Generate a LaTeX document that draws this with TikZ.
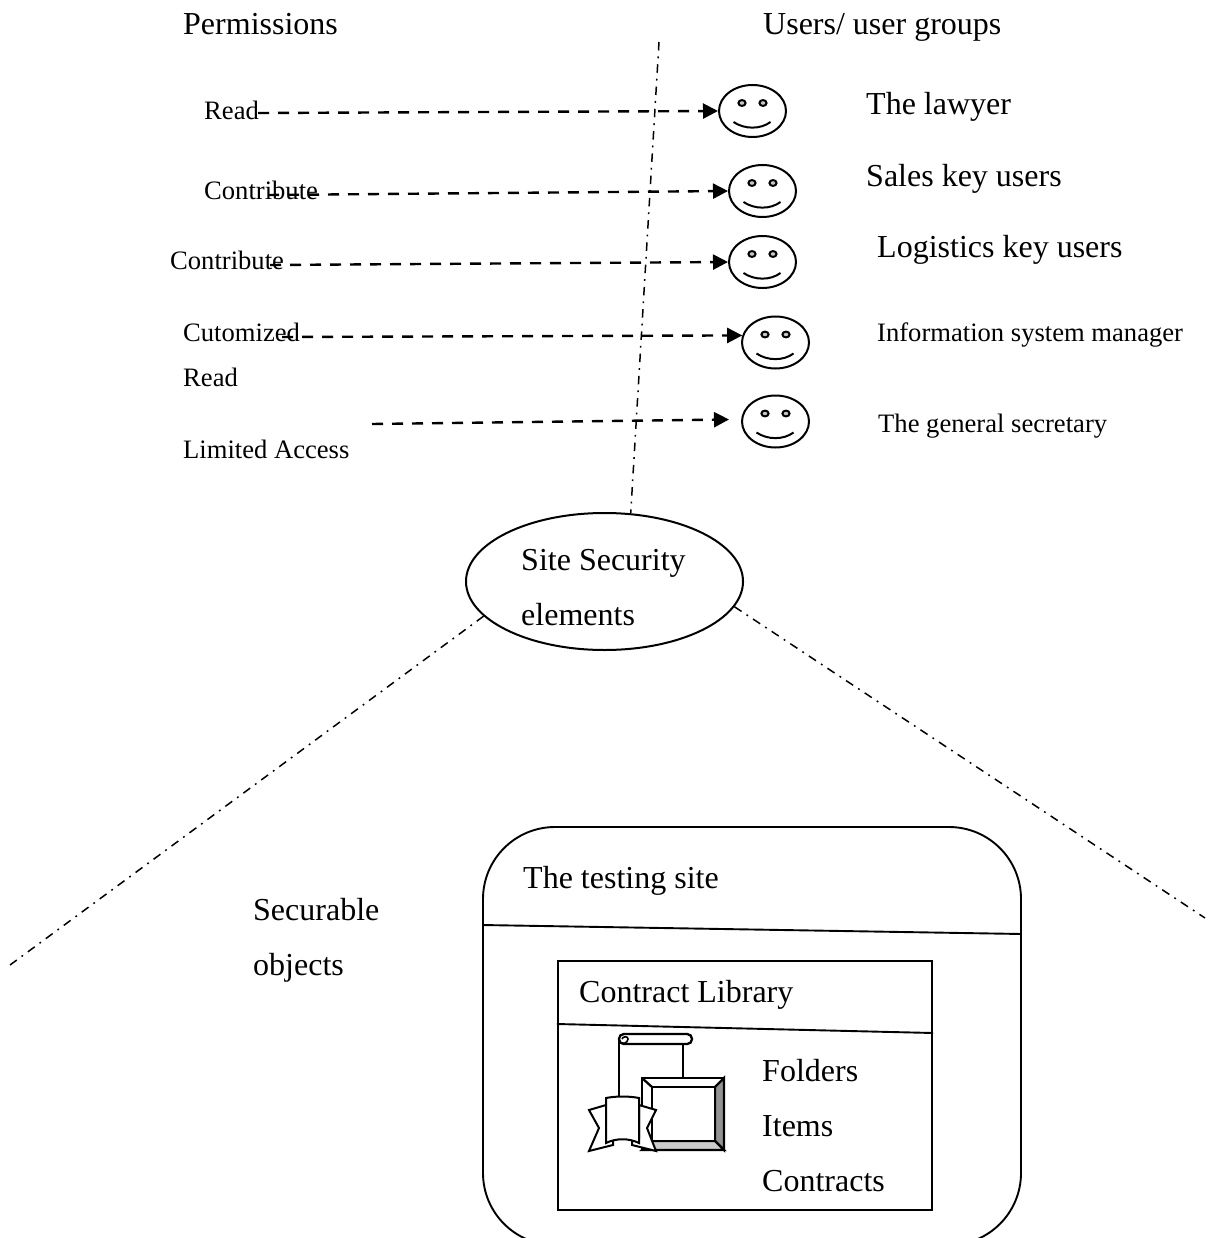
\documentclass[tikz,border=0pt]{standalone}
\usepackage{fontspec}
\setmainfont{Liberation Serif}
\usetikzlibrary{arrows.meta,shapes.geometric}
\tikzset{
  x=1pt,y=-1pt,
  bigt/.style={anchor=base west,inner sep=0pt,yshift=-0.8pt,font=\fontsize{32}{36}\selectfont},
  smallt/.style={anchor=base west,inner sep=0pt,yshift=-0.8pt,font=\fontsize{26.6}{30}\selectfont},
  ln/.style={line width=1.9pt,black},
  iconln/.style={line width=2.3pt,black,line join=miter},
  facebody/.style={draw,ellipse,line width=2pt,minimum width=67pt,minimum height=52pt,inner sep=0pt},
  perm/.style={line width=2.4pt,dash pattern=on 11pt off 9pt,-{Triangle[length=15pt,width=15pt]}},
  axisline/.style={line width=1.5pt,dash pattern=on 8.5pt off 6pt on 1.8pt off 6pt},
  pics/smile/.style={code={
    \draw[line width=2pt,fill=gray!45] (-10.5,-8) ellipse (3.6pt and 2.9pt);
    \draw[line width=2pt,fill=gray!45] (10.5,-8) ellipse (3.6pt and 2.9pt);
    \draw[line width=2pt] (-19,11) .. controls (-8,18.5) and (8,18.5) .. (18,11);
  }}
}
\begin{document}
\begin{tikzpicture}
\useasboundingbox (0,0) rectangle (1216,1238);
\begin{scope}
\clip (0,0) rectangle (1216,1238);

% headings
\node[bigt] (tperm) at (183,34) {Permissions};
\node[bigt] (tusers) at (763,34) {Users/ user groups};

% permission labels
\node[smallt] (pread) at (204,119) {Read};
\node[smallt] (pcona) at (204,199) {Contribute};
\node[smallt] (pconb) at (170,269) {Contribute};
\node[smallt] (pcut) at (183,341) {Cutomized};
\node[smallt] (pcutb) at (183,386) {Read};
\node[smallt] (plim) at (183,458) {Limited Access};

% user labels
\node[bigt] (ulaw) at (866,114) {The lawyer};
\node[bigt] (usal) at (866,186) {Sales key users};
\node[bigt] (ulog) at (877,257) {Logistics key users};
\node[smallt] (uinf) at (877,341) {Information system manager};
\node[smallt] (ugen) at (878,432) {The general secretary};

% faces
\node[facebody] (f1) at (752.5,111) {};
\node[facebody] (f2) at (762.5,191) {};
\node[facebody] (f3) at (762.5,262) {};
\node[facebody] (f4) at (775.5,342.5) {};
\node[facebody] (f5) at (775.5,421.5) {};
\foreach \f in {f1,f2,f3,f4,f5} \pic at (\f.center) {smile};

% permission arrows
\coordinate (a1) at (258,113);
\coordinate (a2) at (268,195);
\coordinate (a3) at (270,265);
\coordinate (a4) at (282,337);
\coordinate (a5) at (372,424);
\coordinate (e5) at (729,419.5);
\draw[perm] (a1) -- (f1.west);
\draw[perm] (a2) -- (f2.west);
\draw[perm] (a3) -- (f3.west);
\draw[perm] (a4) -- (f4.168);
\draw[perm] (a5) -- (e5);

% central ellipse
\node[draw,ellipse,line width=2pt,minimum width=277pt,minimum height=137pt,inner sep=0pt] (site) at (604.5,581.5) {};
\node[bigt] (tsite) at (521,570) {Site Security};
\node[bigt] (tele) at (521,625) {elements};

% axis lines
\coordinate (top) at (659,42);
\coordinate (ll) at (10,965);
\coordinate (rr) at (1205,918);
\draw[axisline] (top) -- (site.69.2);
\draw[axisline] (site.196.3) -- (ll);
\draw[axisline] (site.349.6) -- (rr);

\node[bigt] (tsec) at (253,920) {Securable};
\node[bigt] (tobj) at (253,975) {objects};

% testing site box
\node[draw,rounded corners=72pt,line width=1.9pt,minimum width=538pt,minimum height=418pt,inner sep=0pt] (sitebox) at (752,1036) {};
\draw[ln] (sitebox.west |- 0,925) -- (sitebox.east |- 0,934);
\node[bigt] (ttest) at (523,888) {The testing site};

% contract library box
\node[draw,line width=2.1pt,minimum width=374pt,minimum height=249pt,inner sep=0pt] (libbox) at (745,1085.5) {};
\draw[ln] (libbox.west |- 0,1024) -- (libbox.east |- 0,1033);
\node[bigt] (tlib) at (579,1002) {Contract Library};
\node[bigt] (tfol) at (762,1081) {Folders};
\node[bigt] (titm) at (762,1136) {Items};
\node[bigt] (tcon) at (762,1191) {Contracts};

% icon: scroll
\draw[iconln] (619,1097) -- (619,1040);
\draw[iconln] (683,1044) -- (683,1078);
\draw[iconln,rounded corners=4.8pt] (619,1034) rectangle (692,1044);
\draw[line width=1.6pt] (619,1042) .. controls (622,1045) and (628,1043) .. (628,1039) .. controls (628,1036) and (623,1036) .. (622,1039);
% icon: frame
\draw[iconln,fill=white] (642,1078) rectangle (724,1150);
\draw[iconln,fill=gray!85] (724,1078) -- (724,1150) -- (715,1141) -- (715,1087) -- cycle;
\draw[iconln,fill=gray!40] (642,1150) -- (724,1150) -- (715,1141) -- (652,1141) -- cycle;
\draw[iconln,fill=white] (652,1087) rectangle (715,1141);
\draw[iconln] (642,1078) -- (652,1087);
% icon: ribbon
\draw[line width=2pt,fill=white] (606,1105) -- (589,1110) -- (599,1128) -- (589,1151) -- (613,1145) -- (613,1138) -- (606,1138) -- cycle;
\draw[line width=2pt,fill=white] (639,1105) -- (656,1110) -- (647,1128) -- (656,1151) -- (632,1145) -- (632,1138) -- (639,1138) -- cycle;
\draw[line width=2pt,fill=white] (606,1098) .. controls (616,1096) and (629,1096) .. (639,1098) -- (639,1143) .. controls (629,1138) and (616,1138) .. (606,1143) -- cycle;
\end{scope}
\end{tikzpicture}
\end{document}
